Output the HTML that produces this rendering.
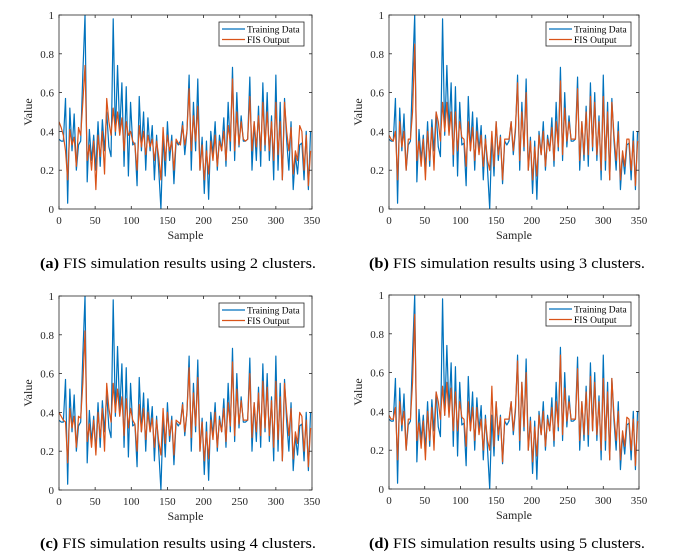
<!DOCTYPE html>
<html><head><meta charset="utf-8">
<style>
html,body{margin:0;padding:0;background:#fff;}
svg{display:block;font-family:"Liberation Serif",serif;}
</style></head>
<body>
<svg id="fig" width="679" height="557" viewBox="0 0 679 557" xmlns="http://www.w3.org/2000/svg"></svg>
<script>
// Shared training data (samples 0,3,...,348)
const sampleStep = 3;
const xTicks = [0,50,100,150,200,250,300,350];
const yTicks = [0,0.2,0.4,0.6,0.8,1];
const yTickLabels = ["0","0.2","0.4","0.6","0.8","1"];
const trainingData = [
0.36,0.35,0.35,0.57,0.03,0.52,0.30,0.49,0.20,
0.33,0.35,0.70,1.00,0.14,0.41,0.25,0.38,0.20,
0.45,0.22,0.46,0.30,0.50,0.32,0.27,0.98,0.38,
0.74,0.40,0.65,0.22,0.63,0.17,0.55,0.33,0.34,
0.12,0.58,0.30,0.50,0.20,0.47,0.30,0.43,0.15,
0.38,0.20,0.00,0.38,0.17,0.45,0.25,0.38,0.13,
0.35,0.33,0.35,0.45,0.28,0.40,0.69,0.20,0.55,
0.30,0.67,0.20,0.37,0.08,0.35,0.05,0.40,0.28,
0.45,0.20,0.38,0.30,0.47,0.22,0.55,0.30,0.73,
0.25,0.60,0.32,0.48,0.35,0.35,0.36,0.68,0.20,
0.45,0.25,0.53,0.22,0.65,0.30,0.60,0.25,0.48,
0.15,0.69,0.20,0.55,0.15,0.57,0.35,0.20,0.45,
0.10,0.28,0.18,0.33,0.34,0.15,0.40,0.10,0.40];
const fis2 = [
0.45,0.42,0.38,0.30,0.15,0.41,0.33,0.37,0.22,
0.42,0.38,0.55,0.74,0.25,0.33,0.20,0.35,0.10,
0.38,0.27,0.40,0.18,0.57,0.45,0.38,0.52,0.40,
0.50,0.38,0.47,0.30,0.45,0.38,0.40,0.35,0.33,
0.20,0.43,0.32,0.40,0.28,0.38,0.32,0.36,0.25,
0.35,0.27,0.15,0.42,0.25,0.38,0.30,0.35,0.20,
0.36,0.34,0.33,0.43,0.33,0.40,0.62,0.30,0.48,
0.35,0.53,0.20,0.33,0.15,0.30,0.18,0.35,0.25,
0.38,0.22,0.35,0.30,0.40,0.25,0.43,0.35,0.67,
0.30,0.50,0.33,0.45,0.36,0.35,0.36,0.58,0.30,
0.45,0.32,0.48,0.30,0.55,0.33,0.50,0.30,0.45,
0.25,0.55,0.28,0.45,0.15,0.55,0.40,0.30,0.42,
0.18,0.30,0.25,0.43,0.40,0.20,0.38,0.12,0.30];
const fis3 = [
0.38,0.36,0.35,0.40,0.15,0.45,0.32,0.40,0.20,
0.36,0.36,0.50,0.85,0.25,0.35,0.22,0.36,0.15,
0.40,0.25,0.42,0.20,0.50,0.45,0.35,0.55,0.40,
0.55,0.38,0.50,0.28,0.50,0.30,0.45,0.37,0.36,
0.22,0.45,0.30,0.42,0.25,0.40,0.28,0.38,0.22,
0.36,0.25,0.20,0.40,0.22,0.45,0.28,0.37,0.15,
0.36,0.36,0.36,0.45,0.30,0.42,0.65,0.25,0.50,
0.32,0.60,0.20,0.35,0.15,0.32,0.17,0.38,0.28,
0.40,0.22,0.36,0.30,0.42,0.25,0.45,0.32,0.66,
0.28,0.52,0.35,0.45,0.36,0.36,0.36,0.62,0.25,
0.45,0.28,0.50,0.28,0.58,0.32,0.55,0.28,0.45,
0.20,0.58,0.25,0.50,0.15,0.55,0.38,0.25,0.40,
0.15,0.30,0.22,0.36,0.36,0.20,0.35,0.12,0.35];
const fis4 = [
0.40,0.38,0.36,0.35,0.14,0.42,0.32,0.38,0.22,
0.38,0.37,0.55,0.82,0.25,0.34,0.22,0.36,0.18,
0.40,0.27,0.42,0.20,0.55,0.42,0.35,0.55,0.40,
0.52,0.38,0.48,0.28,0.47,0.32,0.42,0.36,0.34,
0.20,0.44,0.30,0.42,0.26,0.40,0.30,0.37,0.22,
0.36,0.25,0.18,0.42,0.24,0.40,0.28,0.36,0.18,
0.36,0.35,0.34,0.44,0.30,0.40,0.63,0.27,0.50,
0.33,0.58,0.20,0.35,0.15,0.30,0.16,0.36,0.26,
0.40,0.22,0.36,0.30,0.42,0.25,0.45,0.33,0.66,
0.28,0.52,0.34,0.46,0.36,0.36,0.36,0.60,0.27,
0.45,0.30,0.50,0.28,0.56,0.32,0.53,0.28,0.46,
0.22,0.56,0.26,0.48,0.15,0.55,0.40,0.28,0.42,
0.16,0.30,0.24,0.40,0.38,0.20,0.36,0.12,0.32];
const fis5 = [
0.38,0.36,0.36,0.42,0.15,0.45,0.33,0.40,0.20,
0.36,0.36,0.55,0.90,0.25,0.34,0.21,0.35,0.15,
0.40,0.25,0.42,0.20,0.50,0.45,0.36,0.53,0.38,
0.55,0.37,0.52,0.30,0.50,0.30,0.45,0.37,0.36,
0.22,0.45,0.30,0.42,0.25,0.42,0.28,0.36,0.20,
0.36,0.25,0.20,0.53,0.22,0.45,0.28,0.37,0.14,
0.36,0.36,0.36,0.45,0.30,0.42,0.66,0.25,0.55,
0.32,0.60,0.20,0.35,0.14,0.32,0.17,0.38,0.28,
0.40,0.22,0.36,0.30,0.42,0.25,0.45,0.32,0.69,
0.28,0.52,0.35,0.45,0.36,0.36,0.36,0.62,0.25,
0.45,0.28,0.50,0.28,0.58,0.30,0.55,0.28,0.45,
0.20,0.57,0.25,0.50,0.15,0.57,0.38,0.25,0.40,
0.15,0.30,0.22,0.37,0.36,0.20,0.36,0.12,0.35];
const captionLetters = ["(a)","(b)","(c)","(d)"];
const captionTexts = [" FIS simulation results using 2 clusters."," FIS simulation results using 3 clusters."," FIS simulation results using 4 clusters."," FIS simulation results using 5 clusters."];

const NS="http://www.w3.org/2000/svg";
const svg=document.getElementById('fig');
function mk(tag,attrs,parent){const e=document.createElementNS(NS,tag);for(const k in attrs)e.setAttribute(k,attrs[k]);(parent||svg).appendChild(e);return e;}

const panels=[
 {x0:59,x1:312,y0:15,y1:209,fis:fis2,cx:178,cy:268,name:'panel-a'},
 {x0:389,x1:639,y0:15,y1:209,fis:fis3,cx:507,cy:268,name:'panel-b'},
 {x0:59,x1:312,y0:296,y1:490,fis:fis4,cx:178,cy:548,name:'panel-c'},
 {x0:389,x1:639,y0:295,y1:489,fis:fis5,cx:507,cy:548,name:'panel-d'}
];

panels.forEach((p,pi)=>{
  const g=mk('g',{});
  
  
  const xs=v=>p.x0+(v/350)*(p.x1-p.x0);
  const ys=v=>p.y1-v*(p.y1-p.y0);
  // clip
  const cp=mk('clipPath',{id:'clip'+pi},g);
  mk('rect',{x:p.x0,y:p.y0,width:p.x1-p.x0,height:p.y1-p.y0},cp);
  function series(arr,color,name){
    const d=arr.map((v,i)=>(i?'L':'M')+xs(i*sampleStep).toFixed(2)+' '+ys(v).toFixed(2)).join(' ');
    const path=mk('path',{d:d,fill:'none',stroke:color,'stroke-width':1.2,'stroke-linejoin':'round','clip-path':'url(#clip'+pi+')'},g);
    
    
  }
  series(trainingData,'#0072BD','training-data-line');
  series(p.fis,'#D95319','fis-output-line');
  // box
  const box=mk('rect',{x:p.x0,y:p.y0,width:p.x1-p.x0,height:p.y1-p.y0,fill:'none',stroke:'#262626','stroke-width':0.8},g);
  
  
  // x ticks
  xTicks.forEach(t=>{
    const x=xs(t);
    mk('line',{x1:x,x2:x,y1:p.y1,y2:p.y1-3,stroke:'#262626','stroke-width':0.8},g);
    mk('line',{x1:x,x2:x,y1:p.y0,y2:p.y0+3,stroke:'#262626','stroke-width':0.8},g);
    const tx=mk('text',{x:x,y:p.y1+15,'font-size':11,'text-anchor':'middle',fill:'#262626'},g);
    tx.textContent=String(t);
    
    
  });
  yTicks.forEach((t,i)=>{
    const y=ys(t);
    mk('line',{x1:p.x0,x2:p.x0+3,y1:y,y2:y,stroke:'#262626','stroke-width':0.8},g);
    mk('line',{x1:p.x1,x2:p.x1-3,y1:y,y2:y,stroke:'#262626','stroke-width':0.8},g);
    const tx=mk('text',{x:p.x0-5,y:y+4,'font-size':11,'text-anchor':'end',fill:'#262626'},g);
    tx.textContent=yTickLabels[i];
    
    
  });
  const cyv=(p.y0+p.y1)/2;
  const yl=mk('text',{x:0,y:0,'font-size':12,'text-anchor':'middle',fill:'#262626',transform:'translate('+(p.x0-27)+','+cyv+') rotate(-90)'},g);
  yl.textContent='Value';
  
  
  const xl=mk('text',{x:(p.x0+p.x1)/2,y:p.y1+30,'font-size':12,'text-anchor':'middle',fill:'#262626'},g);
  xl.textContent='Sample';
  
  
  // legend
  const lg=mk('g',{},g);
  
  
  const lx=p.x1-93, ly=p.y0+7;
  mk('rect',{x:lx,y:ly,width:85,height:24,fill:'#fff',stroke:'#262626','stroke-width':0.8},lg);
  [['Training Data','#0072BD'],['FIS Output','#D95319']].forEach((e,i)=>{
    const yy=ly+7+i*10.5;
    const le=mk('g',{},lg);
    
    
    mk('line',{x1:lx+3,x2:lx+26,y1:yy,y2:yy,stroke:e[1],'stroke-width':1.2},le);
    const t=mk('text',{x:lx+28,y:yy+3.5,'font-size':9.5,fill:'#000'},le);
    t.textContent=e[0];
  });
  // caption
  const cap=mk('text',{x:p.cx,y:p.cy,'font-size':15,'text-anchor':'middle',fill:'#000',textLength:276,lengthAdjust:'spacingAndGlyphs'},svg);
  
  
  const b=mk('tspan',{'font-weight':'bold'},cap); b.textContent=captionLetters[pi];
  const r=mk('tspan',{},cap); r.textContent=captionTexts[pi];
});
</script>
</body></html>
